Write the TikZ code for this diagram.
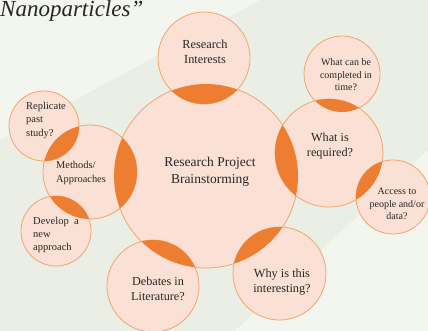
\documentclass[tikz,border=0pt]{standalone}
\usepackage{fontspec}
\IfFontExistsTF{LiberationSerif-Regular.ttf}{%
  \newfontfamily\tnr{LiberationSerif}[Extension=.ttf, UprightFont=*-Regular, ItalicFont=*-Italic, BoldFont=*-Bold]}{%
  \newfontfamily\tnr{Liberation Serif}}
\definecolor{bgbase}{HTML}{EBEEE4}
\definecolor{bglight}{HTML}{F3F6EE}
\definecolor{peach}{HTML}{FBE1D5}
\definecolor{peachline}{HTML}{F0A46E}
\definecolor{lensor}{HTML}{ED7D31}
\definecolor{txt}{HTML}{262626}
\tikzset{
  bub/.style={circle, fill=peach, draw=peachline, line width=0.8pt, inner sep=0pt},
  lbl/.style={text=txt, inner sep=0pt, align=center},
  lbll/.style={text=txt, inner sep=0pt, align=left, anchor=west},
}
\newcommand{\lens}[4]{%
  \begin{scope}\clip (#1) circle (#2);\fill[lensor] (#3) circle (#4);\end{scope}}
\begin{document}
\begin{tikzpicture}[x=1pt,y=-1pt]
\useasboundingbox (0,0) rectangle (428,331);
\fill[bgbase] (0,0) rectangle (428,331);
\fill[bglight] (0,0) -- (260,0) -- (60,108) -- (0,140) -- cycle;
\fill[bglight] (235,331) -- (428,150) -- (428,331) -- cycle;
% title
\node[anchor=base west, inner sep=0pt, text=txt, font=\tnr\fontsize{23}{26}\selectfont\itshape] (title) at (0,17) {Nanoparticles”};
% circle centres
\coordinate (cM) at (206,176);
\coordinate (cRI) at (204,58);
\coordinate (cWC) at (342,74);
\coordinate (cWR) at (329,153);
\coordinate (cAC) at (393,197);
\coordinate (cWI) at (279.5,273.5);
\coordinate (cDL) at (153,286);
\coordinate (cMA) at (90,172);
\coordinate (cRP) at (44,126);
\coordinate (cDN) at (56,231);
% circles
\node[bub, minimum size=184pt] (main) at (cM) {};
\node[bub, minimum size=92pt] (ri) at (cRI) {};
\node[bub, minimum size=76pt] (wc) at (cWC) {};
\node[bub, minimum size=108pt] (wr) at (cWR) {};
\node[bub, minimum size=74pt] (ac) at (cAC) {};
\node[bub, minimum size=93pt] (wi) at (cWI) {};
\node[bub, minimum size=92pt] (dl) at (cDL) {};
\node[bub, minimum size=94pt] (ma) at (cMA) {};
\node[bub, minimum size=70pt] (rp) at (cRP) {};
\node[bub, minimum size=70pt] (dn) at (cDN) {};
% lenses
\lens{cM}{92}{cRI}{46}
\lens{cM}{92}{cWR}{54}
\lens{cM}{92}{cWI}{46.5}
\lens{cM}{92}{cDL}{46}
\lens{cM}{92}{cMA}{47}
\lens{cWR}{54}{cWC}{38}
\lens{cWR}{54}{cAC}{37}
\lens{cMA}{47}{cRP}{35}
\lens{cMA}{47}{cDN}{35}
% texts
\node[lbl, font=\tnr\fontsize{13.5}{17}\selectfont] (tM) at (210,172) {Research Project\\Brainstorming};
\node[lbl, font=\tnr\fontsize{12.3}{15}\selectfont] (tRI) at (205,52) {Research\\Interests};
\node[lbl, font=\tnr\fontsize{10}{12.5}\selectfont] (tWC) at (346,75) {What can be\\completed in\\time?};
\node[lbl, font=\tnr\fontsize{12.2}{14.5}\selectfont] (tWR) at (330,146) {What is\\required?};
\node[lbl, font=\tnr\fontsize{10}{12.5}\selectfont] (tAC) at (397,204) {Access to\\people and/or\\data?};
\node[lbl, font=\tnr\fontsize{12.3}{14.5}\selectfont] (tWI) at (282,282) {Why is this\\interesting?};
\node[lbl, font=\tnr\fontsize{12.2}{15}\selectfont] (tDL) at (158,289) {Debates in\\Literature?};
\node[lbll, font=\tnr\fontsize{10.4}{13.5}\selectfont] (tMA) at (56,173) {Methods/\\Approaches};
\node[lbll, font=\tnr\fontsize{10.5}{13.5}\selectfont] (tRP) at (26,120) {Replicate\\past\\study?};
\node[lbll, font=\tnr\fontsize{10.5}{13}\selectfont] (tDN) at (33,235) {Develop\enspace a\\new\\approach};
\end{tikzpicture}
\end{document}
